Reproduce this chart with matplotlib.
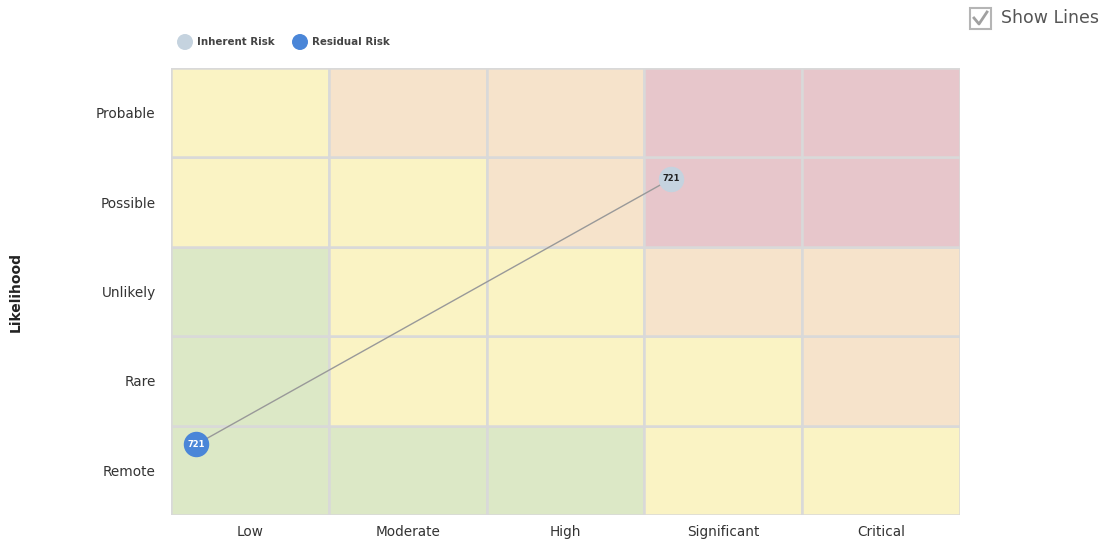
import matplotlib.pyplot as plt
from matplotlib.patches import Rectangle

# Данные матрицы рисков
impact = ["Low", "Moderate", "High", "Significant", "Critical"]
likelihood = ["Remote", "Rare", "Unlikely", "Possible", "Probable"]  # снизу вверх

# уровень ячейки: G - low, Y - medium, P - high, R - extreme (строки снизу вверх)
levels = [
    ["G", "G", "G", "Y", "Y"],  # Remote
    ["G", "Y", "Y", "Y", "P"],  # Rare
    ["G", "Y", "Y", "P", "P"],  # Unlikely
    ["Y", "Y", "P", "R", "R"],  # Possible
    ["Y", "P", "P", "R", "R"],  # Probable
]
level_colors = {"G": "#dce8c6", "Y": "#faf3c4", "P": "#f6e3cb", "R": "#e7c6cb"}

risk_id = "721"
inherent_xy = (3.17, 3.76)
residual_xy = (0.16, 0.79)

fig = plt.figure(figsize=(11.09, 5.42), dpi=100)
ax = fig.add_axes([171 / 1109, 1 - 515 / 542, 789 / 1109, 447 / 542])

for r, row in enumerate(levels):
    for c, lev in enumerate(row):
        ax.add_patch(Rectangle((c, r), 1, 1, facecolor=level_colors[lev],
                               edgecolor="#d9d9d9", linewidth=1.8))

ax.set_xlim(0, 5)
ax.set_ylim(0, 5)
ax.set_xticks([i + 0.5 for i in range(5)])
ax.set_xticklabels(impact, fontsize=9.8, color="#333333")
ax.set_yticks([i + 0.5 for i in range(5)])
ax.set_yticklabels(likelihood, fontsize=9.8, color="#333333")
ax.tick_params(length=0)
ax.tick_params(axis="x", pad=7)
ax.tick_params(axis="y", pad=11)
for s in ax.spines.values():
    s.set_visible(False)

# линия между рисками
ax.plot([residual_xy[0], inherent_xy[0]], [residual_xy[1], inherent_xy[1]],
        color="#999999", linewidth=1, zorder=3)
ax.scatter(*inherent_xy, s=300, color="#c5d3df", zorder=4)
ax.text(*inherent_xy, risk_id, ha="center", va="center", fontsize=6,
        fontweight="bold", color="#222222", zorder=5)
ax.scatter(*residual_xy, s=300, color="#4a86d8", zorder=4)
ax.text(*residual_xy, risk_id, ha="center", va="center", fontsize=6,
        fontweight="bold", color="white", zorder=5)

fig.text(0.014, 1 - 292 / 542, "Likelihood", rotation=90, ha="center", va="center",
         fontsize=10, fontweight="bold", color="#222222")

# легенда и чекбокс в координатах пикселей
lax = fig.add_axes([0, 0, 1, 1], facecolor="none")
lax.set_xlim(0, 1109)
lax.set_ylim(542, 0)
lax.axis("off")
lax.scatter([185, 300], [42, 42], s=110, color=["#c5d3df", "#4a86d8"])
lax.text(197, 42, "Inherent Risk", va="center", fontsize=7.4, fontweight="bold", color="#444444")
lax.text(312, 42, "Residual Risk", va="center", fontsize=7.4, fontweight="bold", color="#444444")

# чекбокс Show Lines
lax.add_patch(Rectangle((970, 8), 21, 21, facecolor="white", edgecolor="#b5b5b5", linewidth=1.5))
lax.plot([974, 979, 987], [18, 24, 12], color="#a0a0a0", linewidth=2)
lax.text(1001, 18, "Show Lines", va="center", fontsize=12.5, color="#555555")

fig.savefig("out.png", dpi=100)
